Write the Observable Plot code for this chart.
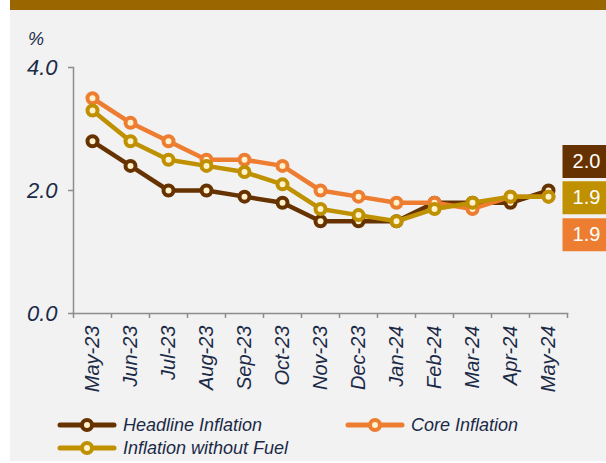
<!DOCTYPE html>
<html>
<head>
<meta charset="utf-8">
<script src="https://cdn.jsdelivr.net/npm/d3@7"></script>
<script src="https://cdn.jsdelivr.net/npm/@observablehq/plot@0.6"></script>
<style>
  html, body { margin: 0; padding: 0; background: #ffffff; }
  #wrap { position: relative; width: 606px; height: 463px; overflow: hidden; font-family: "Liberation Sans", Arial, sans-serif; }
  #bg { position: absolute; left: 10px; top: 10px; width: 596px; height: 451px; background: #f2f2f2; }
  #band { position: absolute; left: 10px; top: 0; width: 596px; height: 10px; background: #996600; }
  #unit { position: absolute; left: 28px; top: 30px; font-size: 18px; line-height: 18px; font-style: italic; color: #1b2a47; }
  #chart { position: absolute; left: 0; top: 0; }
  .leg { position: absolute; display: flex; align-items: center; font-size: 18px; font-style: italic; color: #1b2a47; white-space: nowrap; }
  .leg svg { margin-right: 6px; }
</style>
</head>
<body>
<div id="wrap">
  <div id="bg"></div>
  <div id="band"></div>
  <div id="unit">%</div>
  <div id="chart"></div>
  <div id="legend"></div>
</div>
<script>
const months = ["May-23","Jun-23","Jul-23","Aug-23","Sep-23","Oct-23","Nov-23","Dec-23","Jan-24","Feb-24","Mar-24","Apr-24","May-24"];
const headline    = [2.8, 2.4, 2.0, 2.0, 1.9, 1.8, 1.5, 1.5, 1.5, 1.8, 1.8, 1.8, 2.0];
const core        = [3.5, 3.1, 2.8, 2.5, 2.5, 2.4, 2.0, 1.9, 1.8, 1.8, 1.7, 1.9, 1.9];
const withoutFuel = [3.3, 2.8, 2.5, 2.4, 2.3, 2.1, 1.7, 1.6, 1.5, 1.7, 1.8, 1.9, 1.9];
const seriesNames = ["Headline Inflation", "Core Inflation", "Inflation without Fuel"];
const yTicks = [0, 2, 4];

const colors = {"Headline Inflation": "#663300", "Core Inflation": "#ED7D31", "Inflation without Fuel": "#BF9000"};
const cream = "#FFF2CC";
const navy = "#1b2a47";
const gray = "#8c8c8c";

const seriesValues = [headline, core, withoutFuel];
const rows = [];
seriesNames.forEach((s, k) => months.forEach((m, i) => rows.push({series: s, month: m, value: seriesValues[k][i]})));

// end-of-line value boxes (stacked offsets for readability)
const boxOffsets = {"Headline Inflation": -29, "Inflation without Fuel": 1, "Core Inflation": 38};
const last = months[months.length - 1];
const endRows = seriesNames.map((s, k) => ({series: s, month: last, value: seriesValues[k][months.length - 1]}));

const boxSymbol = {draw(ctx) { ctx.rect(-24, -16.5, 48, 33); }};

const marks = [
  Plot.frame({anchor: "left", stroke: gray, strokeWidth: 1.5}),
  Plot.frame({anchor: "bottom", stroke: gray, strokeWidth: 1.5}),
  Plot.ruleX(months, {x: d => d, y1: 0, y2: 0, dx: -19, insetBottom: -5, stroke: gray, strokeWidth: 1.5}),
  Plot.ruleX([last], {x: d => d, y1: 0, y2: 0, dx: 19, insetBottom: -5, stroke: gray, strokeWidth: 1.5}),
  Plot.axisY({ticks: yTicks, tickFormat: d => d.toFixed(1), tickSize: 5, tickPadding: 11, fontSize: 22, fontStyle: "italic", fill: navy, stroke: gray, strokeWidth: 1.5, label: null}),
  Plot.text(months, {x: d => d, y: 0, dy: 12, rotate: -90, textAnchor: "end", lineAnchor: "middle", fontSize: 20, fontStyle: "italic", fill: navy})
];
for (const s of seriesNames) {
  const data = rows.filter(d => d.series === s);
  marks.push(Plot.line(data, {x: "month", y: "value", stroke: colors[s], strokeWidth: 4.5}));
  marks.push(Plot.dot(data, {x: "month", y: "value", r: 5, stroke: colors[s], strokeWidth: 4, fill: cream}));
}
for (const d of endRows) {
  marks.push(Plot.dot([d], {x: "month", y: "value", dx: 38, dy: boxOffsets[d.series], symbol: boxSymbol, fill: colors[d.series], stroke: "none"}));
  marks.push(Plot.text([d], {x: "month", y: "value", dx: 38, dy: boxOffsets[d.series], text: v => v.value.toFixed(1), fill: "white", fontSize: 20, textAnchor: "middle", lineAnchor: "middle"}));
}

const chart = Plot.plot({
  width: 606,
  height: 405,
  marginTop: 67,
  marginBottom: 92,
  marginLeft: 73,
  marginRight: 39,
  x: {type: "point", domain: months, padding: 0.5, axis: null},
  y: {domain: [0, 4], axis: null},
  style: {background: "transparent", overflow: "visible", fontFamily: "'Liberation Sans', Arial, sans-serif"},
  marks
});
document.getElementById("chart").appendChild(chart);

// legend
const legendPos = [
  {name: "Headline Inflation", left: 57, top: 414},
  {name: "Core Inflation", left: 345, top: 414},
  {name: "Inflation without Fuel", left: 57, top: 437}
];
const legend = document.getElementById("legend");
for (const p of legendPos) {
  const c = colors[p.name];
  const div = document.createElement("div");
  div.className = "leg";
  div.style.left = p.left + "px";
  div.style.top = p.top + "px";
  div.style.height = "22px";
  div.innerHTML = `<svg width="60" height="16"><line x1="3" y1="8" x2="57" y2="8" stroke="${c}" stroke-width="5" stroke-linecap="round"/><circle cx="30" cy="8" r="5" fill="${cream}" stroke="${c}" stroke-width="4"/></svg><span>${p.name}</span>`;
  legend.appendChild(div);
}
</script>
</body>
</html>
